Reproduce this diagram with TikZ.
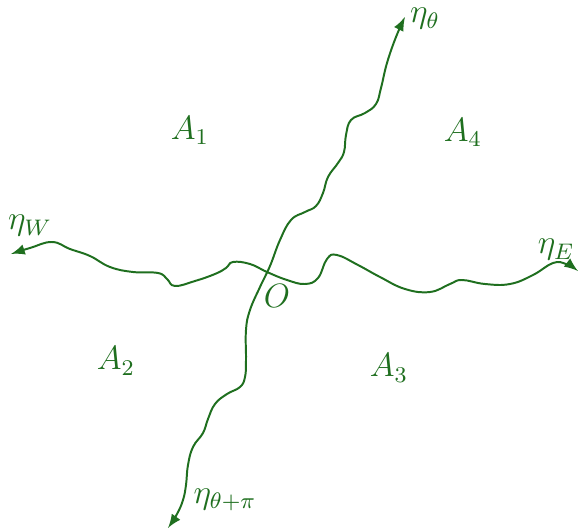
\documentclass[tikz,border=0pt]{standalone}
\usepackage{tikz}
\usetikzlibrary{calc}
\begin{document}
\begin{tikzpicture}[>=latex, x=0.0125cm, y=-0.0125cm]

% colors
\definecolor{pathGreen}{HTML}{1F6F1F}
\def\pathWidth{0.7pt}

% picture frame
\useasboundingbox (0,0) rectangle (578,529);

% end points of the two paths
\coordinate (westEnd) at (11,254);
\coordinate (eastEnd) at (578,271);
\coordinate (northEnd) at (405,17);
\coordinate (southEnd) at (168,528);

% west-east path
\draw[<->, pathGreen, line width=\pathWidth] plot[smooth, tension=0.72] coordinates {
    (westEnd) (30,248) (52,242) (70,249) (90,256) (110,267) (133,272)
    (158,273) (167,279) (175,286) (195,281) (215,274) (226,268) (233,262)
    (250,264) (267,272) (287,280) (305,284) (318,278) (327,259) (337,255)
    (358,265) (380,277) (405,289) (430,292) (450,284) (462,280) (485,284)
    (510,284) (533,275) (553,263) (566,264) (eastEnd)};

% south-north path
\draw[<->, pathGreen, line width=\pathWidth] plot[smooth, tension=0.72] coordinates {
    (southEnd) (177,514) (183,500) (186,485) (188,465) (193,447) (203,433)
    (208,419) (215,404) (227,394) (240,387) (245,377) (246,360) (246,330)
    (250,310) (260,287) (270,266) (280,240) (291,220) (305,212) (316,206)
    (323,193) (328,177) (338,163) (344,152) (346,135) (351,120) (365,113)
    (376,104) (381,88) (387,63) (396,37) (northEnd)};

% path labels
\node[text=pathGreen, font=\large] (etaTheta) at (425,19) {$\eta_\theta$};
\node[text=pathGreen, font=\large] (etaThetaPi) at (225,500) {$\eta_{\theta+\pi}$};
\node[text=pathGreen, font=\large] (etaW) at (30,226) {$\eta_W$};
\node[text=pathGreen, font=\large] (etaE) at (556,250) {$\eta_E$};
\node[text=pathGreen, font=\large] (origin) at (277,296) {$O$};

% regions
\node[text=pathGreen, font=\large] (regionOne) at (190,130) {$A_1$};
\node[text=pathGreen, font=\large] (regionTwo) at (116,361) {$A_2$};
\node[text=pathGreen, font=\large] (regionThree) at (389,368) {$A_3$};
\node[text=pathGreen, font=\large] (regionFour) at (463,132) {$A_4$};

\end{tikzpicture}
\end{document}
